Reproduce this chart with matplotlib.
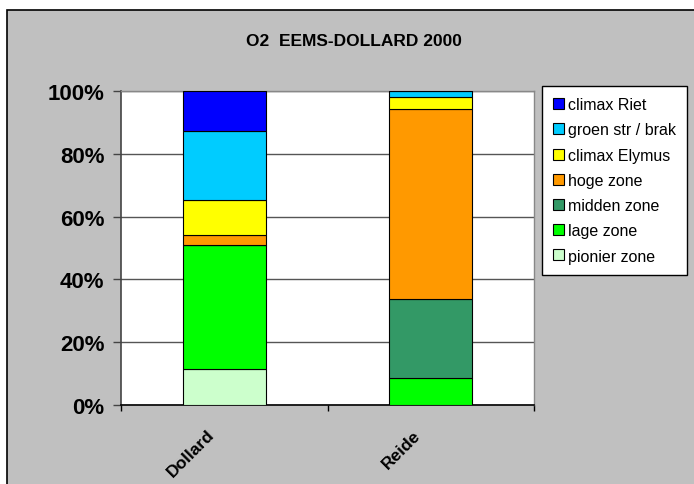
import numpy as np
import matplotlib
matplotlib.use("Agg")
import matplotlib.pyplot as plt
import matplotlib.transforms as mtransforms
from matplotlib.patches import Rectangle

plt.rcParams['font.family'] = ['Liberation Sans', 'DejaVu Sans']

sites = ['Dollard', 'Reide']
zones = ['pionier zone', 'lage zone', 'midden zone', 'hoge zone',
         'climax Elymus', 'groen str / brak', 'climax Riet']
# percentages per site, bottom to top
pionier = [11.4, 0.0]
lage = [39.7, 8.5]
midden = [0.0, 25.2]
hoge = [2.9, 60.5]
elymus = [11.3, 3.8]
groen = [21.9, 2.0]
riet = [12.8, 0.0]
colors = ['#CCFFCC', '#00FF00', '#339966', '#FF9900',
          '#FFFF00', '#00CCFF', '#0000FF']

series = [pionier, lage, midden, hoge, elymus, groen, riet]

W, H = 694, 485
fig = plt.figure(figsize=(W / 100, H / 100), dpi=100)
fig.patch.set_facecolor('white')
bg = Rectangle((7 / W, -0.05), 1.1, 1 - 11 / H + 0.05,
               transform=fig.transFigure, facecolor='#C0C0C0',
               edgecolor='black', linewidth=1.2, zorder=-10)
fig.patches.append(bg)

ax = fig.add_axes([121 / W, 1 - 406 / H, (534 - 121) / W, (406 - 92) / H])
ax.set_facecolor('white')

x = np.arange(len(sites))
bottom = np.zeros(len(sites))
bars = []
for vals, name, col in zip(series, zones, colors):
    vals = np.array(vals)
    b = ax.bar(x, vals, 0.4, bottom=bottom, color=col, edgecolor='black',
               linewidth=0.8, label=name, zorder=3)
    bars.append(b)
    bottom += vals

ax.set_xlim(-0.5, 1.5)
ax.set_ylim(0, 100)
ax.set_yticks(np.arange(0, 101, 20))
ax.set_yticklabels([f'{v}%' for v in range(0, 101, 20)],
                   fontsize=16, fontweight='bold')
ax.yaxis.grid(True, color='#555555', linewidth=1, zorder=1)
ax.tick_params(axis='y', direction='out', length=6, width=1, color='#444444', pad=6)

ax.set_xticks(x)
ax.set_xticklabels(sites, rotation=45, ha='right', va='top',
                   rotation_mode='anchor', fontsize=12.5, fontweight='bold')
ax.tick_params(axis='x', length=0, pad=12)
shift = mtransforms.ScaledTranslation(-0.18, -0.05, fig.dpi_scale_trans)
for lbl in ax.get_xticklabels():
    lbl.set_transform(lbl.get_transform() + shift)
ax.set_xticks([-0.5, 0.5, 1.5], minor=True)
ax.tick_params(axis='x', which='minor', direction='out', length=4, width=1, color='black')

for s in ['top', 'right']:
    ax.spines[s].set_color('#888888')
    ax.spines[s].set_linewidth(1)
ax.spines['left'].set_color('#444444')
ax.spines['left'].set_linewidth(1.2)
ax.spines['bottom'].set_color('black')
ax.spines['bottom'].set_linewidth(1.2)

fig.text(354 / W, 1 - 42 / H, 'O2  EEMS-DOLLARD 2000', ha='center', va='center',
         fontsize=12.5, fontweight='bold')

handles = bars[::-1]
labels = zones[::-1]
leg = fig.legend(handles, labels, loc='upper left',
                 bbox_to_anchor=(542 / W, 1 - 87 / H), fontsize=11.5,
                 frameon=True, fancybox=False, edgecolor='black',
                 facecolor='white', framealpha=1, handlelength=0.68,
                 handleheight=0.68, handletextpad=0.25, labelspacing=0.64,
                 borderpad=0.7, borderaxespad=0)
leg.get_frame().set_linewidth(1)

fig.savefig('out.png', dpi=100)
